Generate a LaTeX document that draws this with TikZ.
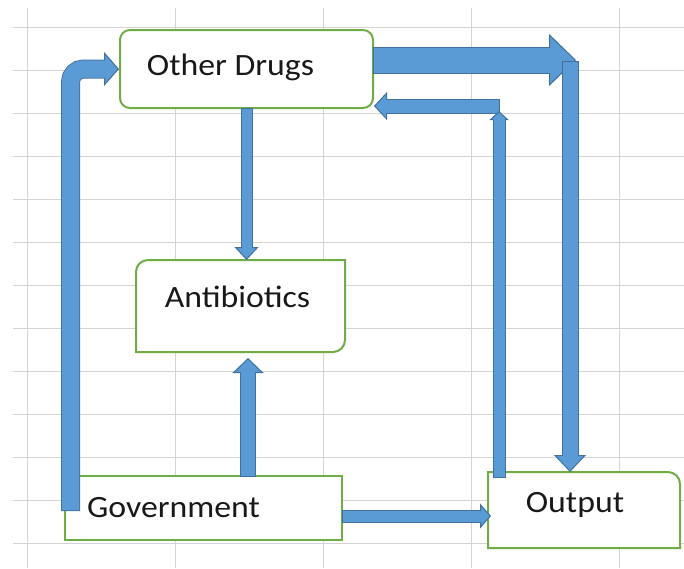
\documentclass[tikz,border=0pt]{standalone}
\usepackage{fontspec}
\setmainfont{Carlito}[FakeStretch=1.09]
\usetikzlibrary{arrows.meta,calc}
\definecolor{abl}{HTML}{5B9BD5}
\definecolor{abd}{HTML}{41719C}
\definecolor{bgr}{HTML}{70AD47}
\definecolor{grd}{HTML}{D4D4D4}
\newcommand\fatarrow[4]{%
  \draw[abd, line width=#1+2pt, shorten >=#2, shorten <=-1pt] #4;
  \draw[abl, line width=#1, -{Triangle[length=#2,width=#3,fill=abl,color=abd,line width=1pt]}] #4;
  \draw[abl, line width=#1, shorten >=#2-1.5pt] #4;}
\begin{document}
\begin{tikzpicture}[x=1pt,y=1pt,
  boxline/.style={draw=bgr, line width=2pt, fill=white},
  holder/.style={inner sep=0pt, outer sep=0pt, minimum width=#1},
  lbl/.style={font=\fontsize{31}{36}\selectfont, inner sep=0pt, text=black!90}]
\useasboundingbox (0,0) rectangle (684,-568);
\fill[white] (0,0) rectangle (684,-568);
% grid
\foreach \gx in {27,175,323,471,619} \draw[grd, line width=1pt] (\gx,-8) -- (\gx,-568);
\foreach \k in {0,...,12} \draw[grd, line width=1pt] (13,-27-43*\k) -- (684,-27-43*\k);
% boxes
\node[boxline, rounded corners=10pt, inner sep=0pt, minimum width=253pt, minimum height=78pt] (od) at (246.5,-69) {};
\node[holder=209pt, minimum height=92pt] (ab) at (240.5,-306) {};
\draw[boxline] ($(ab.north west)+(12,0)$) -- (ab.north east) -- ($(ab.south east)+(0,12)$) arc[start angle=0,end angle=-90,radius=12pt] -- (ab.south west) -- ($(ab.north west)+(0,-12)$) arc[start angle=180,end angle=90,radius=12pt] -- cycle;
\node[boxline, inner sep=0pt, minimum width=277pt, minimum height=64pt] (gov) at (203.5,-508) {};
\node[holder=192pt, minimum height=76pt] (out) at (584,-510) {};
\draw[boxline] (out.north west) -- ($(out.north east)+(-12,0)$) arc[start angle=90,end angle=0,radius=12pt] -- (out.south east) -- (out.south west) -- cycle;
% labels
\node[lbl] (tod) at (230.5,-67) {Other Drugs};
\node[lbl] (tab) at (237.5,-297) {Antibiotics};
\node[lbl] (tgov) at (173.5,-508) {Government};
\node[lbl] (tout) at (575,-505) {Output};
% coordinates
\coordinate (c2) at (576,-60);
\coordinate (c2b) at (570,-62);
\coordinate (c3) at (499,-106);
\coordinate (a5) at (248,-476);
\coordinate (a6) at ($(gov.east)+(0,-8)$);
% arrows
\fatarrow{17pt}{15pt}{34pt}{[rounded corners=13pt] ($(gov.north west)+(6.5,-35)$) |- (od.west)}
\fatarrow{25pt}{27pt}{52pt}{($(od.east)+(0,9)$) -- (c2)}
\fatarrow{15pt}{17pt}{32pt}{(c2b) -- (c2b |- out.north)}
\fatarrow{13pt}{13pt}{28pt}{(c3) -- (c3 -| od.east)}
\fatarrow{11pt}{9pt}{19pt}{($(out.north west)+(11,-5)$) -- (499,-111)}
\fatarrow{10pt}{13pt}{24pt}{(od.south) -- (od.south |- ab.north)}
\fatarrow{14pt}{15pt}{31pt}{(a5) -- ($(a5 |- ab.south)+(0,-6)$)}
\fatarrow{11pt}{11pt}{25pt}{(a6) -- ($(a6 -| out.west)+(3,0)$)}
\end{tikzpicture}
\end{document}
